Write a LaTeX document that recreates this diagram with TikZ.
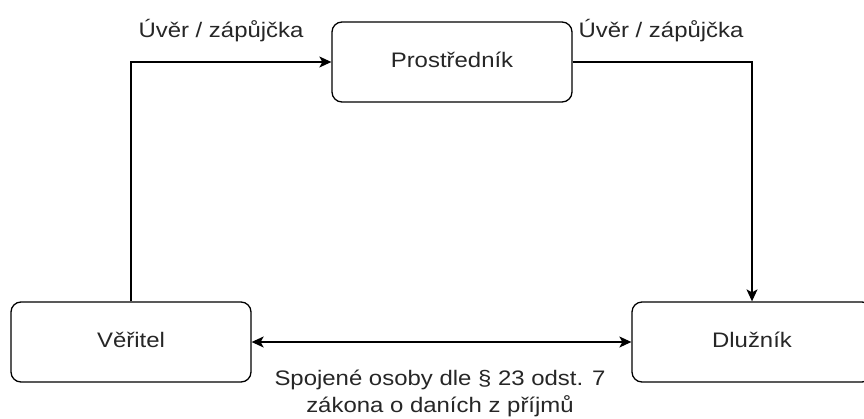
\documentclass[tikz,border=0pt]{standalone}
\usepackage{fontspec}
\setmainfont[FakeStretch=1.14]{Liberation Sans}
\usetikzlibrary{arrows.meta}
\begin{document}
\begin{tikzpicture}[x=1pt,y=-1pt,
  txt/.style={text=black!85, font=\fontsize{21}{27}\selectfont},
  box/.style={txt, draw=black, line width=1.3pt, rounded corners=10pt, minimum width=240pt, minimum height=80pt, inner sep=0pt, text height=14pt, text depth=3.4pt},
  lbl/.style={txt, inner sep=0pt, anchor=base},
  conn/.style={line width=1.3pt, -{Stealth[length=12pt,width=11pt,inset=3pt]}},
  conn2/.style={line width=1.3pt, {Stealth[length=12pt,width=11pt,inset=3pt]}-{Stealth[length=12pt,width=11pt,inset=3pt]}}]
\useasboundingbox (0,0) rectangle (864,418);
\clip (0,0) rectangle (864,418);
\fill[white] (0,0) rectangle (864,418);
\node[box] (p) at (452,62) {Prostředník};
\node[box] (v) at (131,342) {Věřitel};
\node[box] (d) at (752,342) {Dlužník};
\draw[conn] (v.north) |- (p.west);
\draw[conn] (p.east) -| (d.north);
\draw[conn2] (v.east) -- (d.west);
\node[lbl] (l1) at (221,37) {Úvěr / zápůjčka};
\node[lbl] (l2) at (661,37) {Úvěr / zápůjčka};
\node[lbl, align=center] (l3) at (440,412) {Spojené osoby dle § 23 odst. 7\\zákona o daních z příjmů};
\end{tikzpicture}
\end{document}
